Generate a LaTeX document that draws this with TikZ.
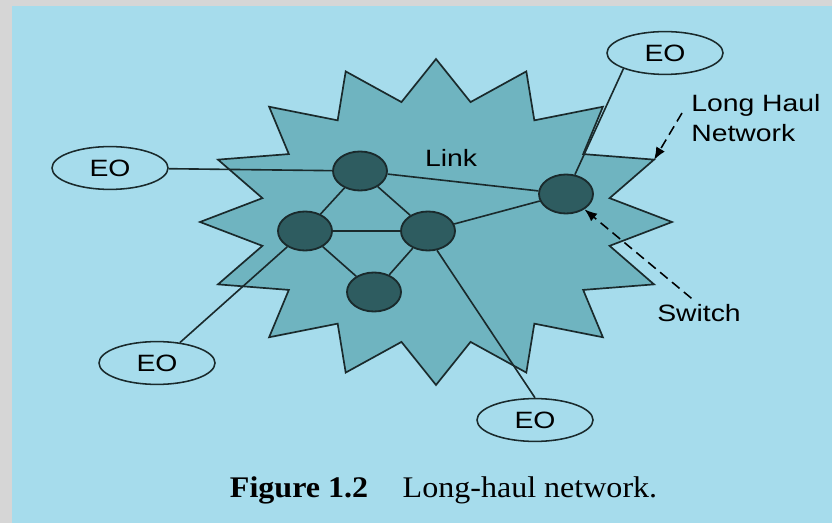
\documentclass[tikz,border=0pt]{standalone}
\usepackage{fontspec}
\setmainfont{Liberation Sans}[FakeStretch=1.2]
\newfontfamily\capfont{Liberation Serif}[FakeStretch=1.07]
\usetikzlibrary{shapes.geometric,arrows.meta}

\definecolor{skyback}{HTML}{A6DCEC}
\definecolor{cloudfill}{HTML}{6FB4C0}
\definecolor{switchfill}{HTML}{2E5C60}
\definecolor{framegray}{HTML}{D6D6D6}
\definecolor{inkline}{HTML}{1A2A2C}

\begin{document}
\begin{tikzpicture}[x=0.025cm,y=-0.025cm,
  switch/.style={ellipse,draw=inkline,line width=1.3pt,fill=switchfill,
    minimum width=1.35cm,minimum height=0.975cm,inner sep=0pt},
  eo/.style={ellipse,draw=inkline,line width=1.1pt,minimum width=2.9cm,
    minimum height=1.07cm,inner sep=0pt,font=\fontsize{16.8}{21}\selectfont},
  link/.style={draw=inkline,line width=1.15pt},
  lbl/.style={font=\fontsize{16.8}{21}\selectfont,inner sep=0pt},
  pointer/.style={draw=black,line width=1.1pt,dash pattern=on 7pt off 4pt,
    -{Latex[length=9pt,width=7pt]}}]
% slide frame and background
\fill[framegray] (0,0) rectangle (832,523);
\fill[skyback] (12,6) rectangle (832,523);
\useasboundingbox (0,0) rectangle (832,523);

% the long haul cloud
\filldraw[fill=cloudfill,draw=inkline,line width=1.2pt]
  plot[samples at={0,...,31},variable=\k]
  ({436+236*(1-0.25*mod(\k,2))*cos(11.25*\k)},{222-163*(1-0.25*mod(\k,2))*sin(11.25*\k)})
  -- cycle;

% switches
\node [switch] (n1) at (360,171) {};
\node [switch] (n2) at (305,231) {};
\node [switch] (n3) at (428,231) {};
\node [switch] (n4) at (374,292) {};
\node [switch] (n5) at (566,194) {};

% end offices
\node [eo] (eoL) at (110,168) {EO};
\node [eo] (eoTR) at (665,53) {EO};
\node [eo] (eoBL) at (157,363) {EO};
\node [eo] (eoB) at (535,420) {EO};

% links
\draw [link] (eoL) -- (n1);
\draw [link] (eoTR.south west) -- (n5);
\draw [link] (eoBL) -- (n2);
\draw [link] (eoB.north) -- (n3.-65);
\draw [link] (n1) -- (n5);
\draw [link] (n1) -- (n2);
\draw [link] (n1) -- (n3);
\draw [link] (n2) -- (n3);
\draw [link] (n2) -- (n4);
\draw [link] (n3) -- (n4);
\draw [link] (n3) -- (n5);

% labels
\node [lbl,anchor=base] (linklbl) at (451,167) {Link};
\node [lbl,anchor=base west] (lh1) at (691,112) {Long Haul};
\node [lbl,anchor=base west] (lh2) at (691,142) {Network};
\node [lbl,anchor=base] (swlbl) at (699,322) {Switch};

\coordinate (spike) at (654,160);
\coordinate (lhtail) at (682,113);
\draw [pointer] (lhtail) -- (spike);
\draw [pointer,shorten <=7pt] (swlbl.north) -- (n5);

% caption
\node [font=\capfont\fontsize{21.3}{25}\selectfont,anchor=base west] (caption) at (225,497)
  {\textbf{Figure 1.2}\hspace{1.15em}Long-haul network.};
\end{tikzpicture}
\end{document}
